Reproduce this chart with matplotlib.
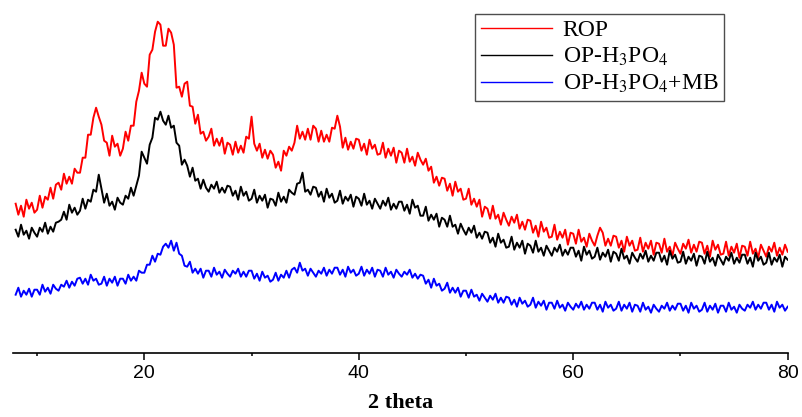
import numpy as np
import matplotlib
matplotlib.use("Agg")
import matplotlib.pyplot as plt

plt.rcParams['mathtext.fontset'] = 'stix'

# 2-theta grid (degrees), 0.25 deg steps from 8 to 80
two_theta = np.arange(8.0, 80.0001, 0.25)

# Intensities (arbitrary units, curves offset vertically)
rop = [
    149, 138, 147, 136, 153, 144, 150, 140,
    143, 157, 145, 156, 153, 165, 154, 168,
    170, 163, 179, 169, 176, 169, 184, 180,
    180, 195, 195, 218, 218, 235, 245, 236,
    228, 212, 210, 197, 217, 206, 209, 197,
    204, 221, 212, 227, 227, 251, 262, 280,
    269, 266, 298, 303, 321, 331, 328, 307,
    307, 324, 320, 308, 265, 266, 256, 269,
    271, 247, 246, 229, 238, 219, 221, 212,
    216, 224, 207, 214, 207, 215, 199, 210,
    208, 198, 211, 200, 207, 200, 216, 214,
    236, 209, 202, 209, 195, 203, 194, 202,
    198, 185, 191, 182, 202, 197, 206, 202,
    210, 227, 214, 221, 213, 224, 213, 227,
    224, 211, 222, 211, 218, 211, 225, 224,
    237, 226, 205, 215, 203, 211, 204, 214,
    213, 202, 209, 198, 213, 204, 208, 198,
    199, 210, 195, 204, 197, 205, 190, 202,
    200, 190, 204, 191, 196, 187, 200, 193,
    188, 194, 182, 186, 170, 176, 167, 175,
    174, 162, 169, 157, 171, 161, 164, 153,
    154, 164, 148, 154, 146, 153, 136, 146,
    144, 134, 147, 134, 138, 128, 140, 133,
    127, 136, 130, 138, 124, 131, 123, 133,
    132, 120, 127, 116, 131, 121, 125, 115,
    116, 128, 113, 121, 115, 123, 108, 120,
    119, 109, 123, 111, 115, 106, 119, 112,
    107, 117, 125, 120, 107, 114, 107, 117,
    116, 105, 112, 101, 116, 107, 112, 102,
    103, 115, 101, 110, 104, 112, 98, 110,
    109, 100, 114, 101, 106, 97, 110, 104,
    99, 109, 104, 113, 100, 108, 101, 111,
    110, 99, 107, 96, 112, 103, 108, 98,
    99, 111, 97, 106, 100, 109, 95, 107,
    106, 97, 111, 99, 104, 95, 108, 102,
    96, 106, 101, 110, 97, 105, 98, 108,
    101,
]

op_h3po4 = [
    123, 116, 128, 118, 122, 114, 125, 120,
    116, 125, 121, 130, 119, 126, 121, 130,
    131, 133, 141, 133, 148, 140, 145, 138,
    142, 154, 144, 153, 151, 163, 161, 178,
    164, 150, 159, 147, 151, 143, 155, 150,
    148, 157, 154, 165, 157, 167, 177, 201,
    195, 189, 208, 215, 235, 233, 241, 232,
    228, 237, 225, 227, 210, 207, 188, 193,
    187, 176, 185, 172, 174, 164, 173, 165,
    161, 168, 164, 171, 160, 165, 160, 167,
    166, 157, 162, 153, 166, 157, 161, 152,
    154, 163, 150, 157, 152, 158, 145, 154,
    153, 147, 160, 151, 156, 150, 163, 160,
    158, 169, 170, 180, 161, 163, 158, 166,
    165, 156, 161, 151, 164, 155, 159, 150,
    152, 162, 149, 156, 152, 158, 146, 156,
    154, 147, 159, 148, 152, 144, 154, 149,
    144, 152, 147, 155, 143, 149, 144, 151,
    151, 142, 148, 139, 153, 145, 147, 137,
    137, 146, 132, 138, 133, 139, 126, 135,
    133, 126, 137, 126, 128, 119, 129, 123,
    118, 125, 120, 127, 115, 120, 114, 121,
    120, 110, 115, 106, 119, 110, 113, 105,
    106, 116, 103, 110, 105, 112, 99, 109,
    107, 100, 112, 101, 105, 97, 107, 102,
    97, 105, 101, 108, 97, 103, 98, 105,
    105, 96, 102, 92, 106, 98, 102, 94,
    96, 105, 93, 100, 96, 103, 91, 101,
    99, 92, 104, 94, 97, 89, 100, 95,
    91, 99, 94, 102, 91, 97, 92, 100,
    100, 91, 97, 88, 102, 94, 98, 90,
    91, 101, 89, 96, 92, 99, 87, 97,
    96, 89, 101, 91, 95, 87, 98, 93,
    88, 96, 92, 100, 89, 95, 90, 98,
    98, 89, 95, 86, 100, 92, 96, 88,
    90, 100, 88, 95, 91, 98, 86, 96,
    93,
]

op_h3po4_mb = [
    58, 65, 56, 62, 58, 64, 56, 63,
    63, 58, 68, 61, 65, 59, 68, 64,
    62, 68, 66, 72, 65, 71, 67, 74,
    75, 69, 74, 68, 78, 72, 74, 68,
    69, 76, 67, 74, 70, 76, 67, 74,
    74, 69, 78, 72, 76, 72, 82, 80,
    80, 88, 88, 97, 91, 99, 98, 106,
    109, 105, 112, 102, 110, 99, 97, 87,
    86, 91, 80, 84, 79, 84, 75, 82,
    82, 76, 85, 78, 81, 75, 83, 79,
    76, 82, 79, 84, 76, 81, 76, 82,
    82, 74, 79, 72, 81, 75, 77, 71,
    73, 80, 72, 78, 75, 82, 75, 83,
    85, 80, 90, 82, 84, 77, 84, 80,
    76, 82, 79, 85, 77, 83, 79, 85,
    85, 78, 83, 76, 86, 80, 83, 77,
    79, 86, 77, 83, 79, 85, 76, 83,
    82, 76, 85, 78, 81, 75, 83, 79,
    76, 81, 78, 83, 75, 79, 74, 78,
    77, 69, 73, 65, 74, 67, 69, 62,
    64, 70, 60, 65, 60, 65, 56, 62,
    62, 55, 63, 56, 58, 52, 59, 55,
    51, 57, 53, 59, 50, 55, 50, 56,
    55, 48, 53, 46, 55, 49, 52, 46,
    48, 55, 45, 51, 47, 52, 43, 50,
    50, 44, 52, 45, 48, 42, 50, 46,
    43, 49, 45, 51, 43, 48, 44, 50,
    50, 43, 48, 41, 51, 45, 48, 42,
    44, 51, 42, 48, 44, 50, 41, 48,
    47, 41, 50, 43, 46, 40, 48, 44,
    41, 47, 44, 50, 42, 47, 43, 49,
    49, 42, 47, 40, 50, 44, 47, 41,
    43, 50, 41, 47, 43, 49, 40, 47,
    47, 41, 50, 43, 46, 40, 48, 44,
    42, 48, 45, 51, 43, 48, 44, 50,
    50, 43, 48, 41, 51, 45, 48, 42,
    46,
]

labels = ["ROP", "OP-H$_3$PO$_4$", "OP-H$_3$PO$_4$+MB"]
colors = ["#ff0000", "#000000", "#0000ff"]
x_ticks = [20, 40, 60, 80]
x_minor = [10, 30, 50, 70]

fig = plt.figure(figsize=(8.02, 4.17), dpi=100)
ax = fig.add_axes([13.3 / 802, (417 - 352.7) / 417,
                   (787.7 - 13.3) / 802, (352.7 - 5) / 417])

for series, lab, col in zip([rop, op_h3po4, op_h3po4_mb], labels, colors):
    ax.plot(two_theta, series, color=col, lw=1.4, label=lab)

ax.set_xlim(7.78, 80)
ax.set_ylim(0, 347.7)

for side in ("left", "right", "top"):
    ax.spines[side].set_visible(False)
ax.spines["bottom"].set_linewidth(1.2)
ax.set_yticks([])
ax.set_xticks(x_ticks)
ax.set_xticks(x_minor, minor=True)
ax.tick_params(axis="x", which="major", length=5.3, width=1.1, pad=3.5,
               labelsize=14)
ax.tick_params(axis="x", which="minor", length=2.4, width=1.1)
for t in ax.get_xticklabels():
    t.set_fontfamily("Liberation Sans")

ax.set_xlabel("2 theta", fontfamily="Liberation Serif", fontweight="bold",
              fontsize=16, labelpad=8)

leg = fig.legend(loc="upper right", bbox_to_anchor=(724.3 / 802, 1 - 14 / 417),
                 borderaxespad=0, frameon=True, fancybox=False,
                 prop={"family": "Liberation Serif", "size": 17},
                 handlelength=3.0, handletextpad=0.45, labelspacing=0.2,
                 borderpad=0.25)
leg.get_frame().set_edgecolor("#222222")
leg.get_frame().set_linewidth(1.0)
for line in leg.get_lines():
    line.set_linewidth(1.0)

fig.savefig("out.png", dpi=100)
